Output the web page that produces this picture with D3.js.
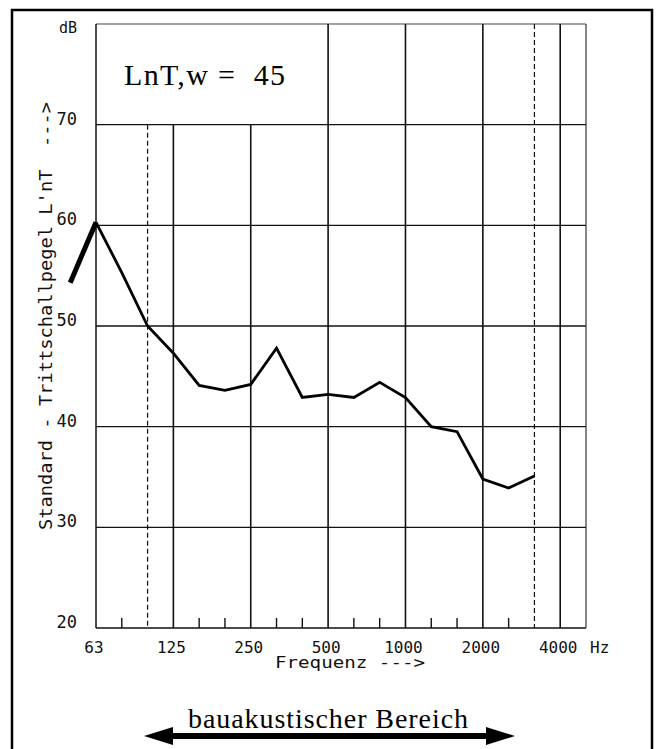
<!DOCTYPE html>
<html>
<head>
<meta charset="utf-8">
<script src="https://cdn.jsdelivr.net/npm/d3@7"></script>
<style>
  body { margin: 0; background: #fff; }
  svg { display: block; }
  .plot text { font-family: "DejaVu Sans Mono", monospace; fill: #111; }
</style>
</head>
<body>
<svg width="657" height="749"></svg>
<script>
// third-octave bands (50 Hz lies left of the frame, only used by the curve)
var bands = ["50", "63", "80", "100", "125", "160", "200", "250", "315", "400", "500",
             "630", "800", "1000", "1250", "1600", "2000", "2500", "3150", "4000", "5000"];
var majorBands = ["125", "250", "500", "1000", "2000", "4000"];
var dashedBands = ["100", "3150"];
var minorTicks = ["80", "160", "200", "315", "400", "630", "800", "1250", "1600", "2500"];
var xTickLabels = ["63", "125", "250", "500", "1000", "2000", "4000"];
var yTicks = [20, 30, 40, 50, 60, 70];

// measured curve L'nT (dB)
var curveBands = ["63", "80", "100", "125", "160", "200", "250", "315", "400", "500",
                  "630", "800", "1000", "1250", "1600", "2000", "2500", "3150"];
var curveValues = [60.3, 55.3, 50.0, 47.3, 44.1, 43.6, 44.2, 47.8, 42.9, 43.2,
                   42.9, 44.4, 42.9, 40.0, 39.5, 34.8, 33.9, 35.1];
// leading thick piece 50 -> 63 Hz
var leadBands = ["50", "63"];
var leadValues = [54.3, 60.3];

var ratingLabel = "LnT,w =  45";
var rangeLabel = "bauakustischer Bereich";

var svg = d3.select("svg"),
    width = +svg.attr("width"),
    height = +svg.attr("height");

var plotL = 96, plotR = 586, plotT = 24, plotB = 628;
var step = (plotR - plotL) / 19;

var x = d3.scalePoint().domain(bands).range([plotL - step, plotR]);
var y = d3.scaleLinear().domain([20, 80]).range([plotB, plotT]);

// outer frame
svg.append("rect")
    .attr("x", 12).attr("y", 10)
    .attr("width", 640).attr("height", 760)
    .attr("fill", "none").attr("stroke", "#000").attr("stroke-width", 2.5);

var g = svg.append("g").attr("class", "plot");

// horizontal grid
g.selectAll(".hgrid")
    .data([30, 40, 50, 60, 70])
    .enter().append("line")
    .attr("x1", x("63")).attr("x2", x("5000"))
    .attr("y1", function(d) { return y(d); })
    .attr("y2", function(d) { return y(d); })
    .attr("stroke", "#111").attr("stroke-width", 1.4);

// frame of the diagram
g.append("line").attr("x1", x("63")).attr("x2", x("5000"))
    .attr("y1", y(80)).attr("y2", y(80)).attr("stroke", "#444").attr("stroke-width", 1);
g.append("line").attr("x1", x("63")).attr("x2", x("5000"))
    .attr("y1", y(20)).attr("y2", y(20)).attr("stroke", "#111").attr("stroke-width", 1.5);
g.append("line").attr("x1", x("63")).attr("x2", x("63"))
    .attr("y1", y(80)).attr("y2", y(20)).attr("stroke", "#111").attr("stroke-width", 1.5);
g.append("line").attr("x1", x("5000")).attr("x2", x("5000"))
    .attr("y1", y(80)).attr("y2", y(20)).attr("stroke", "#333").attr("stroke-width", 1.2);

// vertical octave lines (125 and 250 stop under the label box)
g.selectAll(".vgrid")
    .data(majorBands)
    .enter().append("line")
    .attr("x1", function(d) { return x(d); })
    .attr("x2", function(d) { return x(d); })
    .attr("y1", function(d) { return (d === "125" || d === "250") ? y(70) : y(80); })
    .attr("y2", y(20))
    .attr("stroke", "#111").attr("stroke-width", 1.6);

// dashed limits of the building acoustics range
g.selectAll(".dgrid")
    .data(dashedBands)
    .enter().append("line")
    .attr("x1", function(d) { return x(d); })
    .attr("x2", function(d) { return x(d); })
    .attr("y1", function(d) { return d === "100" ? y(70) : y(80); })
    .attr("y2", y(20))
    .attr("stroke", "#111").attr("stroke-width", 1.2)
    .attr("stroke-dasharray", "5,3");

// small ticks at the bottom
g.selectAll(".mtick")
    .data(minorTicks)
    .enter().append("line")
    .attr("x1", function(d) { return x(d); })
    .attr("x2", function(d) { return x(d); })
    .attr("y1", y(20)).attr("y2", y(20) - 10)
    .attr("stroke", "#111").attr("stroke-width", 1.4);

// y tick labels
g.selectAll(".ylab")
    .data(yTicks)
    .enter().append("text")
    .attr("x", 77).attr("y", function(d) { return y(d); })
    .attr("text-anchor", "end")
    .style("font-size", "17px")
    .text(function(d) { return d; });
g.append("text").attr("x", 77).attr("y", 33).attr("text-anchor", "end")
    .style("font-size", "15px").text("dB");

// y title
g.append("text")
    .attr("transform", "translate(52,530) rotate(-90)")
    .attr("textLength", 428).attr("lengthAdjust", "spacingAndGlyphs")
    .style("font-size", "18px").style("white-space", "pre")
    .text("Standard - Trittschallpegel L'nT  --->");

// x tick labels
g.selectAll(".xlab")
    .data(xTickLabels)
    .enter().append("text")
    .attr("x", function(d) { return x(d) - 2; })
    .attr("y", 653)
    .attr("text-anchor", "middle")
    .style("font-size", "16px")
    .text(function(d) { return d; });
g.append("text").attr("x", 590).attr("y", 653).style("font-size", "16px").text("Hz");
g.append("text").attr("x", 275).attr("y", 668)
    .attr("textLength", 150).attr("lengthAdjust", "spacingAndGlyphs")
    .style("font-size", "16px").style("white-space", "pre")
    .text("Frequenz --->");

// rating label
svg.append("text")
    .attr("x", 124).attr("y", 85)
    .attr("textLength", 161).attr("lengthAdjust", "spacing")
    .style("font-family", "'Liberation Serif', 'Times New Roman', serif")
    .style("font-size", "30px").style("white-space", "pre")
    .text(ratingLabel);

// curve
var line = d3.line()
    .x(function(d) { return x(d[0]); })
    .y(function(d) { return y(d[1]); });

g.append("path")
    .datum(d3.zip(leadBands, leadValues))
    .attr("d", line)
    .attr("fill", "none").attr("stroke", "#000").attr("stroke-width", 5);

g.append("path")
    .datum(d3.zip(curveBands, curveValues))
    .attr("d", line)
    .attr("fill", "none").attr("stroke", "#000").attr("stroke-width", 2.8)
    .attr("stroke-linejoin", "miter");

// range arrow
var ay = 736, ax1 = 144, ax2 = 515;
svg.append("line").attr("x1", ax1 + 20).attr("x2", ax2 - 20)
    .attr("y1", ay).attr("y2", ay)
    .attr("stroke", "#000").attr("stroke-width", 6);
svg.append("path")
    .attr("d", "M" + ax1 + "," + ay + "L" + (ax1 + 29) + "," + (ay - 9) + "L" + (ax1 + 29) + "," + (ay + 9) + "Z")
    .attr("fill", "#000");
svg.append("path")
    .attr("d", "M" + ax2 + "," + ay + "L" + (ax2 - 29) + "," + (ay - 9) + "L" + (ax2 - 29) + "," + (ay + 9) + "Z")
    .attr("fill", "#000");
svg.append("text")
    .attr("x", 188).attr("y", 728)
    .attr("textLength", 280).attr("lengthAdjust", "spacing")
    .style("font-family", "'Liberation Serif', 'Times New Roman', serif")
    .style("font-size", "28px")
    .text(rangeLabel);
</script>
</body>
</html>
